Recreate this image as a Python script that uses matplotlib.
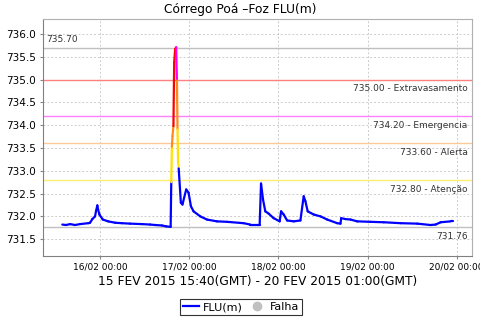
import matplotlib
matplotlib.use("Agg")
import matplotlib.pyplot as plt
import matplotlib.dates as mdates
from matplotlib.collections import LineCollection
from matplotlib.lines import Line2D
import pandas as pd
import numpy as np

plt.rcParams['font.family'] = ['DejaVu Sans']

title = "Córrego Poá –Foz FLU(m)"
xlabel = "15 FEV 2015 15:40(GMT) - 20 FEV 2015 01:00(GMT)"

times = [
    "2015-02-15 13:50", "2015-02-15 14:50", "2015-02-15 15:55", "2015-02-15 17:16",
    "2015-02-15 18:37", "2015-02-15 20:50", "2015-02-15 21:18", "2015-02-15 21:55",
    "2015-02-15 22:39", "2015-02-15 22:55", "2015-02-15 23:16", "2015-02-15 23:28",
    "2015-02-15 23:49", "2015-02-16 00:44", "2015-02-16 02:10", "2015-02-16 04:03",
    "2015-02-16 05:51", "2015-02-16 08:05", "2015-02-16 11:15", "2015-02-16 13:29",
    "2015-02-16 14:50", "2015-02-16 16:38", "2015-02-16 17:48", "2015-02-16 19:00",
    "2015-02-16 19:10", "2015-02-16 19:20", "2015-02-16 19:30", "2015-02-16 19:45",
    "2015-02-16 19:57", "2015-02-16 20:13", "2015-02-16 20:29", "2015-02-16 20:42",
    "2015-02-16 20:51", "2015-02-16 21:00", "2015-02-16 21:10", "2015-02-16 21:45",
    "2015-02-16 22:11", "2015-02-16 23:11", "2015-02-16 23:49", "2015-02-17 00:28",
    "2015-02-17 01:10", "2015-02-17 02:58", "2015-02-17 04:46", "2015-02-17 07:28",
    "2015-02-17 10:10", "2015-02-17 14:38", "2015-02-17 16:27", "2015-02-17 18:41",
    "2015-02-17 18:58", "2015-02-17 19:20", "2015-02-17 19:52", "2015-02-17 20:29",
    "2015-02-17 21:23", "2015-02-17 22:44", "2015-02-18 00:21", "2015-02-18 00:44",
    "2015-02-18 01:26", "2015-02-18 02:21", "2015-02-18 04:08", "2015-02-18 05:56",
    "2015-02-18 06:49", "2015-02-18 07:17", "2015-02-18 07:54", "2015-02-18 09:31",
    "2015-02-18 11:20", "2015-02-18 13:08", "2015-02-18 15:50", "2015-02-18 16:43",
    "2015-02-18 16:55", "2015-02-18 18:04", "2015-02-18 19:25", "2015-02-18 21:13",
    "2015-02-19 00:49", "2015-02-19 04:24", "2015-02-19 08:54", "2015-02-19 13:24",
    "2015-02-19 16:59", "2015-02-19 18:20", "2015-02-19 19:41", "2015-02-19 22:23",
    "2015-02-19 22:55",
]
levels = [
    731.82, 731.81, 731.83, 731.81,
    731.83, 731.85, 731.86, 731.94,
    732.00, 732.12, 732.24, 732.15,
    732.04, 731.93, 731.89, 731.86,
    731.85, 731.84, 731.83, 731.82,
    731.81, 731.80, 731.78, 731.77,
    732.75, 733.53, 733.76, 733.98,
    735.38, 735.67, 735.71, 734.98,
    733.91, 733.21, 733.05, 732.30,
    732.26, 732.59, 732.52, 732.22,
    732.11, 732.00, 731.93, 731.89,
    731.88, 731.85, 731.82, 731.82,
    731.82, 732.72, 732.37, 732.11,
    732.06, 731.96, 731.89, 732.11,
    732.04, 731.91, 731.89, 731.91,
    732.44, 732.33, 732.11, 732.04,
    732.00, 731.93, 731.85, 731.84,
    731.96, 731.94, 731.93, 731.89,
    731.88, 731.87, 731.85, 731.84,
    731.81, 731.82, 731.87, 731.89,
    731.89,
]

# reference lines
max_level = 735.70
min_level = 731.76
thr_values = [735.00, 734.20, 733.60, 732.80]
thr_names = ["Extravasamento", "Emergencia", "Alerta", "Atenção"]
thr_line_colors = ["#ff8080", "#ff80ff", "#ffc898", "#ffee70"]
seg_colors = ["#ff0000", "#ff00ff", "#ff8c1a", "#ffe000"]
base_color = "#0000ff"

t = pd.to_datetime(times)
x = mdates.date2num(t.to_pydatetime())
y = np.array(levels)

fig = plt.figure(figsize=(4.8, 3.2), dpi=100)
ax = fig.add_axes([43/480, 1-256/320, (472-43)/480, (256-19)/320])

ax.set_xlim(mdates.date2num(pd.Timestamp("2015-02-15 08:38")),
            mdates.date2num(pd.Timestamp("2015-02-20 04:08")))
ax.set_ylim(731.13, 736.33)

ax.grid(True, color="#cccccc", linestyle=(0, (2, 2)), linewidth=0.7)
ax.set_axisbelow(True)

# threshold lines
ax.axhline(max_level, color="#c0c0c0", lw=1.0, zorder=2)
ax.axhline(min_level, color="#c0c0c0", lw=1.0, zorder=2)
for v, c in zip(thr_values, thr_line_colors):
    ax.axhline(v, color=c, lw=1.0, zorder=2)

lab_fs = 6.5
ax.text(0.008, max_level + 0.17, f"{max_level:.2f}", transform=ax.get_yaxis_transform(),
        ha="left", va="center", fontsize=lab_fs, color="#333333")
ax.text(0.99, min_level - 0.2, f"{min_level:.2f}", transform=ax.get_yaxis_transform(),
        ha="right", va="center", fontsize=lab_fs, color="#333333")
for v, n in zip(thr_values, thr_names):
    ax.text(0.99, v - 0.2, f"{v:.2f} - {n}", transform=ax.get_yaxis_transform(),
            ha="right", va="center", fontsize=lab_fs, color="#333333")

# coloured segments by end value
def seg_color(v):
    for tv, c in zip(thr_values, seg_colors):
        if v > tv:
            return c
    return base_color

segs = []
cols = []
for i in range(len(x) - 1):
    segs.append([(x[i], y[i]), (x[i+1], y[i+1])])
    cols.append(seg_color(y[i+1]))
lc = LineCollection(segs, colors=cols, linewidths=1.6, capstyle="round", joinstyle="round", zorder=3)
ax.add_collection(lc)

ax.xaxis.set_major_locator(mdates.DayLocator())
ax.xaxis.set_major_formatter(mdates.DateFormatter("%d/%m %H:%M"))
ax.set_yticks([731.5, 732.0, 732.5, 733.0, 733.5, 734.0, 734.5, 735.0, 735.5, 736.0])
ax.yaxis.set_major_formatter(matplotlib.ticker.FormatStrFormatter("%.1f"))
ax.tick_params(axis="y", labelsize=7.5, length=2, color="#888888", pad=3)
ax.tick_params(axis="x", labelsize=6.5, length=2, color="#888888", pad=3)

for s in ["left", "bottom"]:
    ax.spines[s].set_color("#808080")
for s in ["top", "right"]:
    ax.spines[s].set_color("#b0b0b0")

fig.text(0.5, 1-10/320, title, ha="center", va="center", fontsize=8.8)
fig.text(258/480, 1-281/320, xlabel, ha="center", va="center", fontsize=8.8)

handles = [Line2D([], [], color=base_color, lw=1.6),
           Line2D([], [], marker="o", linestyle="none", color="#c0c0c0", markersize=6)]
leg = fig.legend(handles, ["FLU(m)", "Falha"], loc="center", bbox_to_anchor=(241/480, 1-307/320),
                 ncol=2, fontsize=8, frameon=True, fancybox=False, handlelength=1.4,
                 handletextpad=0.4, columnspacing=0.6, borderpad=0.3, borderaxespad=0)
leg.get_frame().set_edgecolor("black")
leg.get_frame().set_linewidth(0.8)

fig.savefig("out.png", dpi=100)
